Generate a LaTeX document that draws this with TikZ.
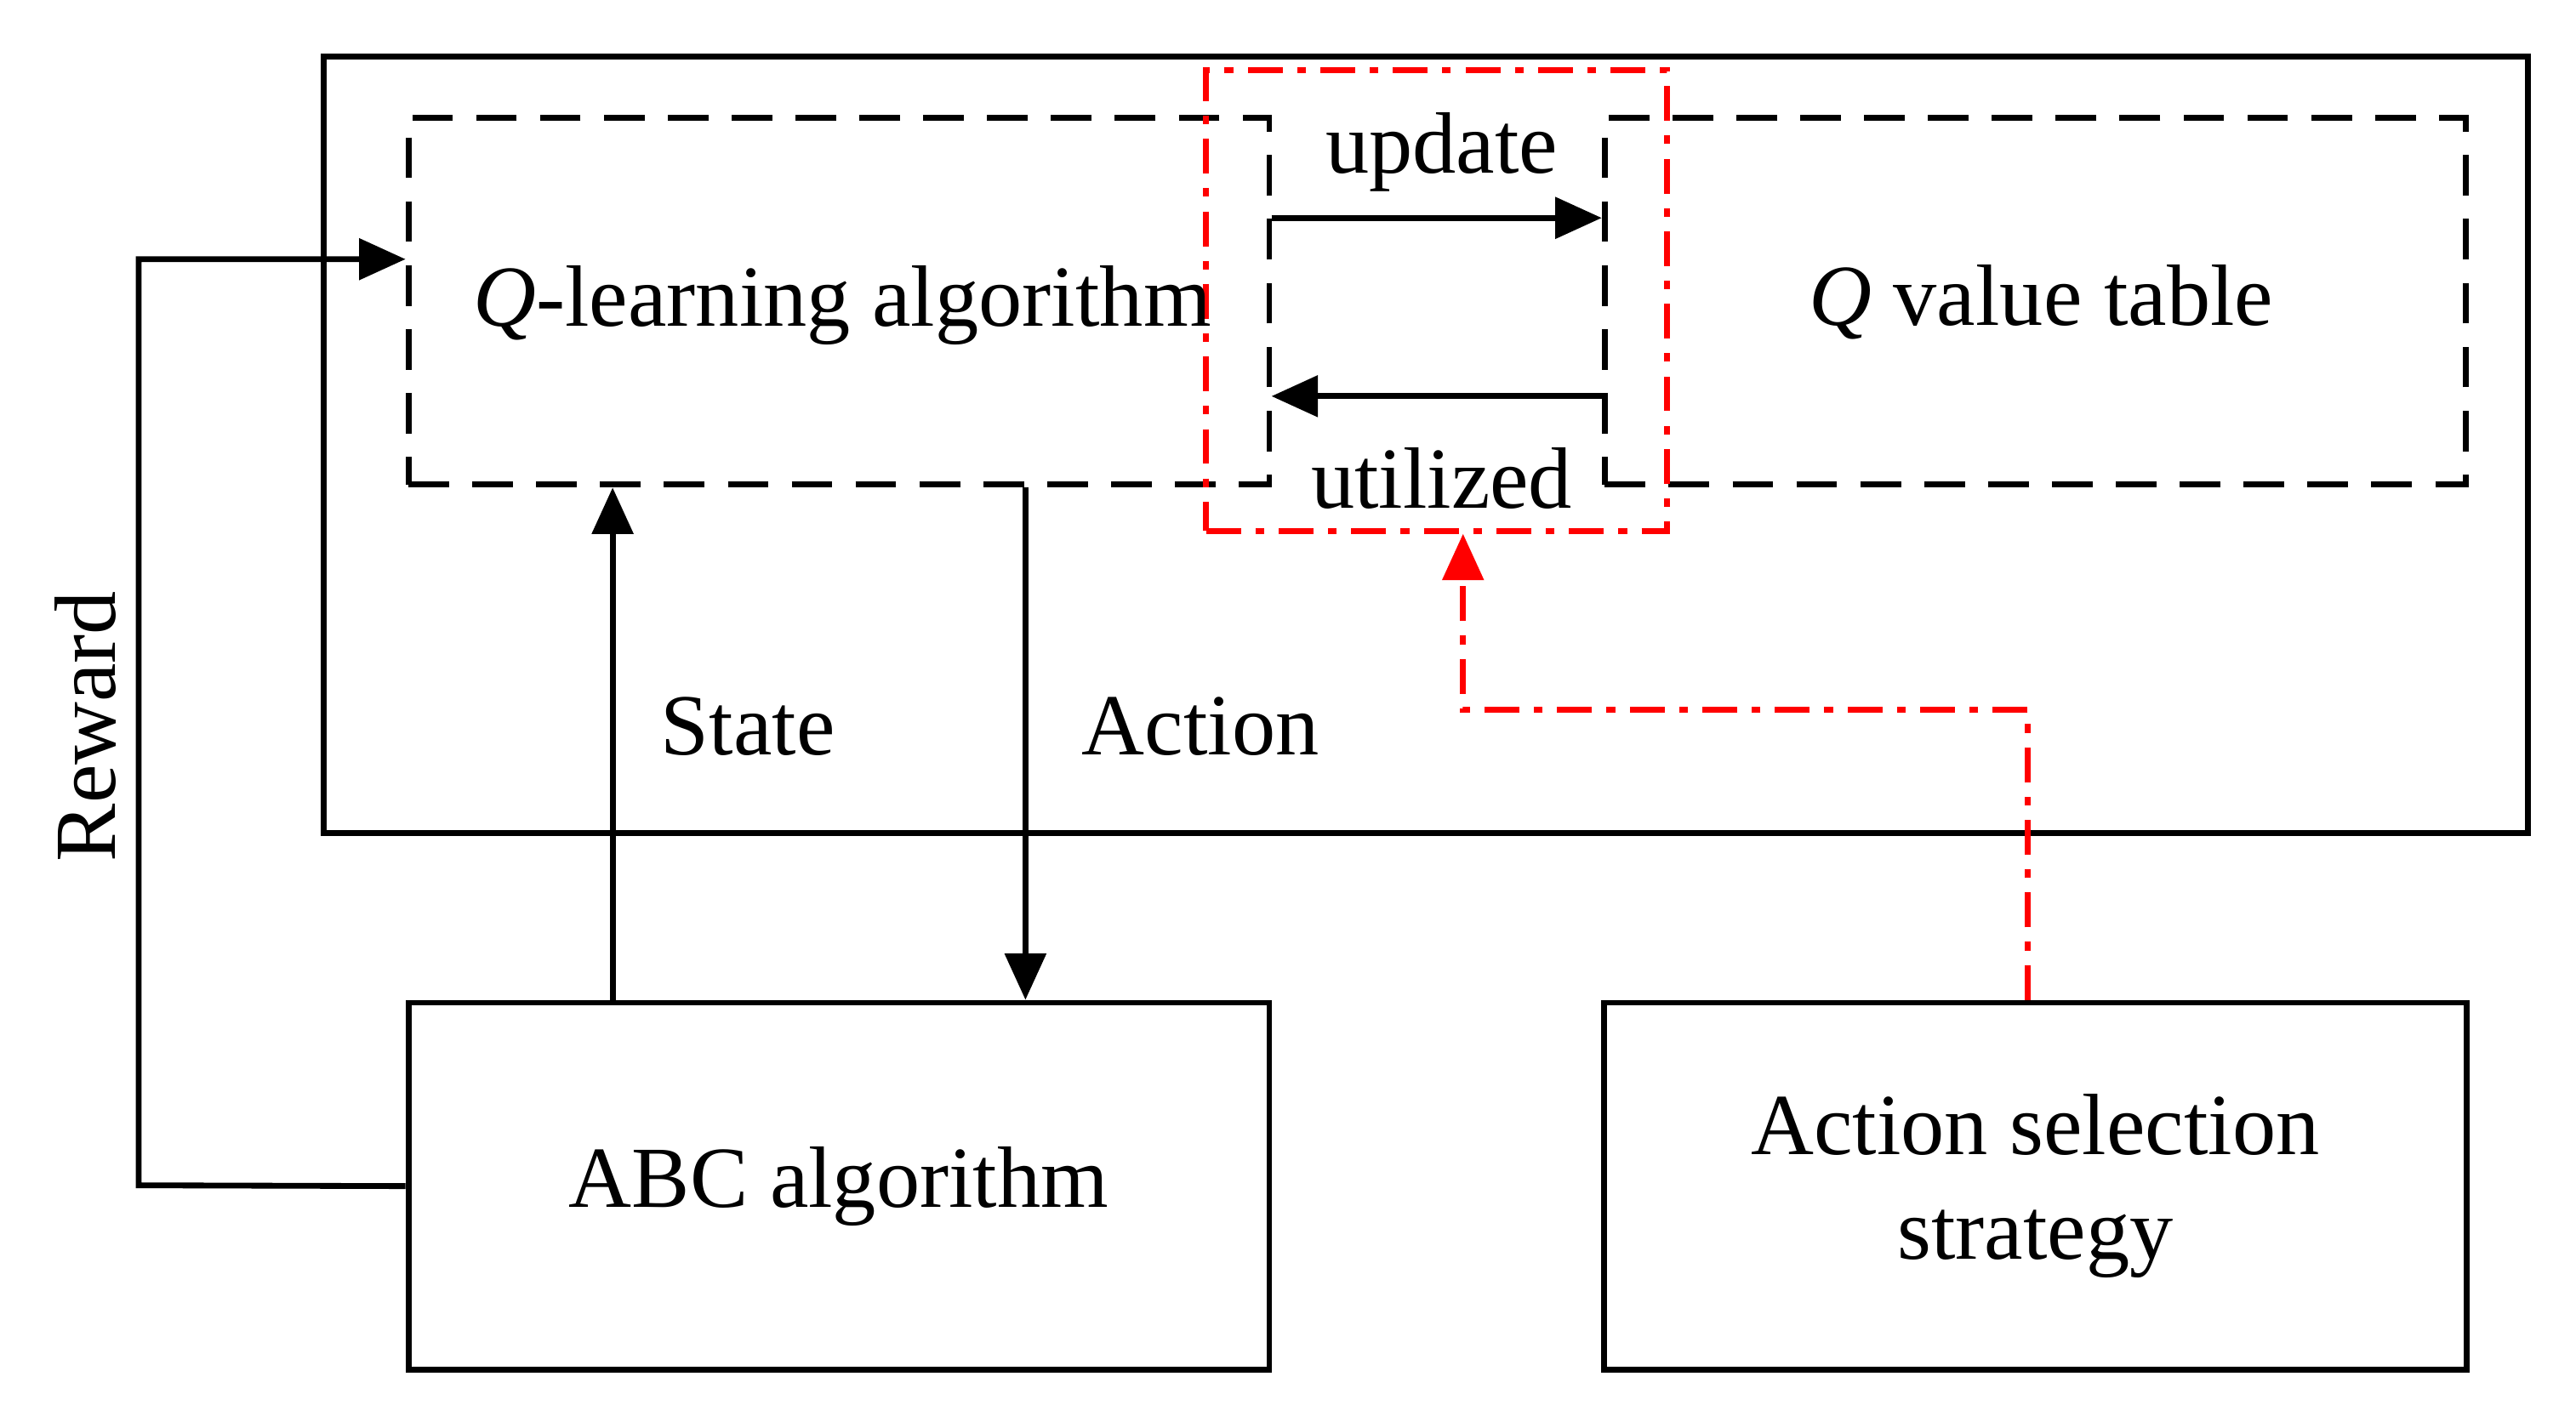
\documentclass[tikz,border=0pt]{standalone}
\usepackage{fontspec}
\setmainfont{Liberation Serif}
\usetikzlibrary{arrows.meta}
\begin{document}
\begin{tikzpicture}[x=0.01cm,y=-0.01cm,
  font=\fontsize{15}{18}\selectfont,
  box/.style={draw,line width=1pt,minimum width=#1,minimum height=2.22cm,inner sep=0pt,align=center},
  dbox/.style={draw,line width=1pt,dash pattern=on 7pt off 4pt,minimum width=5.21cm,minimum height=2.22cm,inner sep=0pt},
  arr/.style={line width=1pt,-{Triangle[length=8pt,width=7pt]}},
  rarr/.style={red,line width=1pt,dash pattern=on 6pt off 2.5pt on 1.5pt off 2.5pt,-{Triangle[length=8pt,width=7pt]}}]
\useasboundingbox (0,0) rectangle (1560,851);
\node[draw,line width=1pt,minimum width=13.34cm,minimum height=4.70cm] (outer) at (863.5,269.5) {};
\node[dbox] (ql) at (508,182.5) {};
\node[dbox] (qv) at (1232.5,182.5) {};
\node[draw=red,line width=1pt,dash pattern=on 6pt off 2.5pt on 1.5pt off 2.5pt,minimum width=2.79cm,minimum height=2.79cm] (red) at (870,182) {};
\node at (510,185) {\textit{Q}-learning algorithm};
\node at (1236,183) {\textit{Q} value table};
\node[box=5.21cm] (abc) at (508,718.5) {ABC algorithm};
\node[box=5.22cm] (as) at (1232.5,718.5) {Action selection\\strategy};
\coordinate (u1) at (770,132); \coordinate (u2) at (970,132);
\coordinate (t1) at (970,240); \coordinate (t2) at (770,240);
\draw[arr] (u1) -- (u2);
\node (upd) at (873,92) {update};
\draw[arr] (t1) -- (t2);
\node (util) at (873,290) {utilized};
\draw[arr] (abc.north -| 371,0) -- (ql.south -| 371,0);
\node (st) at (453,440) {State};
\draw[arr] (ql.south -| 621,0) -- (abc.north -| 621,0);
\node (ac) at (727,440) {Action};
\draw[arr] (abc.west) -- (84,718) -- (84,157) -- (ql.west |- 0,157);
\node[rotate=90] (rw) at (52,440) {Reward};
\draw[rarr] (as.north -| 1228,0) -- (1228,430) -- (886,430) -- (red.south -| 886,0);
\end{tikzpicture}
\end{document}
